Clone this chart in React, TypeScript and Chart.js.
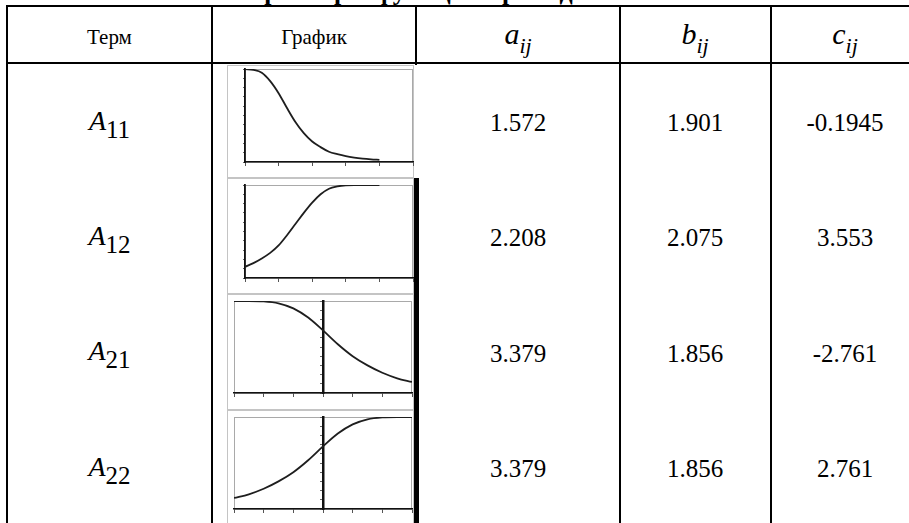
import React, { useEffect, useRef } from "react";
import { Chart, registerables } from "chart.js";

Chart.register(...registerables);

// ---------- data ----------
const TITLE = "Параметры функций принадлежности";
const HEADER_TERM = "Терм";
const HEADER_GRAPH = "График";
const PARAM_LETTERS = ["a", "b", "c"];
const PARAM_SUB = "ij";
const TERM_LETTER = "A";
const TERM_INDICES = ["11", "12", "21", "22"];
const A_VALUES = ["1.572", "2.208", "3.379", "3.379"];
const B_VALUES = ["1.901", "2.075", "1.856", "1.856"];
const C_VALUES = ["-0.1945", "3.553", "-2.761", "2.761"];

// x samples of the first two graphs (axis 0..5)
const X_POS = [0, 0.25, 0.5, 0.75, 1, 1.25, 1.5, 1.75, 2, 2.25, 2.5, 2.75, 3, 3.25, 3.5, 3.75, 4];
const MU_A11 = [1.0, 0.99, 0.96, 0.87, 0.74, 0.58, 0.43, 0.31, 0.22, 0.16, 0.11, 0.084, 0.063, 0.048, 0.037, 0.029, 0.023];
const MU_A12 = [0.12, 0.16, 0.21, 0.27, 0.35, 0.46, 0.58, 0.70, 0.81, 0.90, 0.96, 0.985, 0.997, 1.0, 1.0, 1.0, 1.0];

// x samples of the last two graphs (axis -3..3)
const X_SYM = [-3, -2.5, -2, -1.5, -1, -0.5, 0, 0.5, 1, 1.5, 2, 2.5, 3];
const MU_A21 = [1.0, 1.0, 0.996, 0.975, 0.92, 0.82, 0.68, 0.53, 0.40, 0.30, 0.22, 0.16, 0.12];
const MU_A22 = [0.12, 0.16, 0.22, 0.30, 0.40, 0.53, 0.68, 0.82, 0.92, 0.975, 0.996, 1.0, 1.0];

// ---------- styling ----------
const SERIF = '"Liberation Serif", "Tinos", "Times New Roman", serif';

const framePlugin = {
  id: "plotFrame",
  beforeDraw(chart: any) {
    const { ctx, chartArea } = chart;
    if (!chartArea) return;
    const l = Math.round(chartArea.left);
    const t = Math.round(chartArea.top);
    const r = Math.round(chartArea.right);
    const b = Math.round(chartArea.bottom);
    ctx.save();
    ctx.strokeStyle = "#a9a9a9";
    ctx.lineWidth = 1;
    ctx.strokeRect(l + 0.5, t + 0.5, r - l - 1, b - t);
    ctx.restore();
  },
};

type MiniProps = {
  xs: number[];
  ys: number[];
  xMin: number;
  xMax: number;
  centered: boolean;
  left: number;
  top: number;
  width: number;
  height: number;
  padding: { left: number; top: number; right: number; bottom: number };
};

function MiniChart(p: MiniProps) {
  const ref = useRef<HTMLCanvasElement | null>(null);
  useEffect(() => {
    const chart = new Chart(ref.current as HTMLCanvasElement, {
      type: "line",
      data: {
        datasets: [
          {
            data: p.xs.map((x, i) => ({ x, y: p.ys[i] })),
            borderColor: "#1e1e1e",
            borderWidth: 1.8,
            pointRadius: 0,
            fill: false,
            cubicInterpolationMode: "monotone",
          } as any,
        ],
      },
      options: {
        animation: false,
        responsive: true,
        maintainAspectRatio: false,
        events: [],
        layout: { padding: p.padding },
        plugins: {
          legend: { display: false },
          tooltip: { enabled: false },
          title: { display: false },
        },
        scales: {
          x: {
            type: "linear",
            min: p.xMin,
            max: p.xMax,
            ticks: { display: false, stepSize: 1 },
            grid: { drawOnChartArea: false, drawTicks: true, tickLength: 4, color: "#555", lineWidth: 1 },
            border: { display: true, color: "#111", width: 1.5 },
          },
          y: {
            type: "linear",
            min: 0,
            max: 1,
            position: (p.centered ? { x: 0 } : "left") as any,
            ticks: { display: false, stepSize: 0.1 },
            grid: { drawOnChartArea: false, drawTicks: true, tickLength: 2, color: "#666", lineWidth: 1 },
            border: { display: true, color: "#111", width: p.centered ? 2.5 : 1.8 },
          },
        },
      } as any,
      plugins: [framePlugin],
    });
    return () => chart.destroy();
  }, []);
  return (
    <div style={{ position: "absolute", left: p.left, top: p.top, width: p.width, height: p.height }}>
      <canvas ref={ref} />
    </div>
  );
}

const LINE = "#000";

function HLine({ x1, x2, y, h = 2, color = LINE }: any) {
  return <div style={{ position: "absolute", left: x1, top: y, width: x2 - x1, height: h, background: color }} />;
}
function VLine({ x, y1, y2, w = 2, color = LINE }: any) {
  return <div style={{ position: "absolute", left: x, top: y1, width: w, height: y2 - y1, background: color }} />;
}

function CellText({ cx, baseline, size, children, italic }: any) {
  const top = baseline - 0.8375 * size;
  return (
    <div
      style={{
        position: "absolute",
        left: cx - 100,
        width: 200,
        top,
        fontFamily: SERIF,
        fontSize: size,
        lineHeight: size + "px",
        textAlign: "center",
        whiteSpace: "nowrap",
        fontStyle: italic ? "italic" : "normal",
        color: "#000",
      }}
    >
      {children}
    </div>
  );
}

const COL_TERM = 109.5;
const COL_GRAPH = 314;
const COL_A = 518;
const COL_B = 695;
const COL_C = 845;
const ROW_BASE = 131;
const ROW_STEP = 115.4;

const FRAMES = [
  { top: 65, bottom: 178 },
  { top: 178, bottom: 294 },
  { top: 294, bottom: 410 },
  { top: 410, bottom: 530 },
];

export default function App() {
  const paramCols = [COL_A, COL_B, COL_C];
  const valueCols = [A_VALUES, B_VALUES, C_VALUES];
  const graphs = [
    { xs: X_POS, ys: MU_A11, xMin: 0, xMax: 5, centered: false, padding: { left: 15, top: 3, right: 1, bottom: 12 } },
    { xs: X_POS, ys: MU_A12, xMin: 0, xMax: 5, centered: false, padding: { left: 15, top: 6, right: 1, bottom: 12 } },
    { xs: X_SYM, ys: MU_A21, xMin: -3, xMax: 3, centered: true, padding: { left: 6, top: 6, right: 2, bottom: 13 } },
    { xs: X_SYM, ys: MU_A22, xMin: -3, xMax: 3, centered: true, padding: { left: 6, top: 6, right: 2, bottom: 10 } },
  ];
  return (
    <div
      style={{
        position: "absolute",
        left: 0,
        top: 0,
        width: 909,
        height: 523,
        overflow: "hidden",
        background: "#fff",
        fontFamily: SERIF,
      }}
    >
      {/* cut-off title */}
      <div
        style={{
          position: "absolute",
          left: 7,
          width: 902,
          top: -21.5,
          fontFamily: SERIF,
          fontWeight: "bold",
          fontSize: 26,
          lineHeight: "26px",
          textAlign: "center",
          whiteSpace: "nowrap",
        }}
      >
        {TITLE}
      </div>

      {/* picture frames of the graph column */}
      {FRAMES.map((f, i) => (
        <div
          key={"f" + i}
          style={{
            position: "absolute",
            left: 227,
            top: f.top,
            width: 187,
            height: f.bottom - f.top,
            border: "1px solid #c4c4c4",
            boxSizing: "border-box",
            background: "#fff",
          }}
        />
      ))}

      {/* graphs */}
      {graphs.map((g, i) => {
        const f = FRAMES[i];
        const top = f.top + 1;
        const bottom = Math.min(f.bottom, 523);
        return (
          <MiniChart
            key={"g" + i}
            xs={g.xs}
            ys={g.ys}
            xMin={g.xMin}
            xMax={g.xMax}
            centered={g.centered}
            left={228}
            top={top}
            width={186}
            height={bottom - top}
            padding={g.padding}
          />
        );
      })}

      {/* table rules */}
      <HLine x1={6} x2={909} y={5} />
      <HLine x1={6} x2={909} y={62} />
      <VLine x={6} y1={5} y2={523} />
      <VLine x={211} y1={5} y2={523} />
      <VLine x={415} y1={5} y2={65} />
      <VLine x={414} y1={178} y2={523} w={5} />
      <VLine x={618.5} y1={5} y2={523} />
      <VLine x={769.5} y1={5} y2={523} />

      {/* header */}
      <CellText cx={COL_TERM} baseline={45} size={21}>{HEADER_TERM}</CellText>
      <CellText cx={COL_GRAPH} baseline={45} size={21}>{HEADER_GRAPH}</CellText>
      {PARAM_LETTERS.map((l, i) => (
        <CellText key={"h" + i} cx={paramCols[i]} baseline={44} size={30} italic>
          {l}
          <span style={{ fontSize: 22, position: "relative", top: 9 }}>{PARAM_SUB}</span>
        </CellText>
      ))}

      {/* rows */}
      {TERM_INDICES.map((idx, r) => {
        const base = ROW_BASE + r * ROW_STEP;
        return (
          <React.Fragment key={"r" + r}>
            <CellText cx={COL_TERM} baseline={base - 1} size={28}>
              <span style={{ fontStyle: "italic" }}>{TERM_LETTER}</span>
              <span style={{ fontSize: 25, position: "relative", top: 8 }}>{idx}</span>
            </CellText>
            {valueCols.map((vals, c) => (
              <CellText key={"v" + c} cx={paramCols[c]} baseline={base} size={25}>
                {vals[r]}
              </CellText>
            ))}
          </React.Fragment>
        );
      })}
    </div>
  );
}
